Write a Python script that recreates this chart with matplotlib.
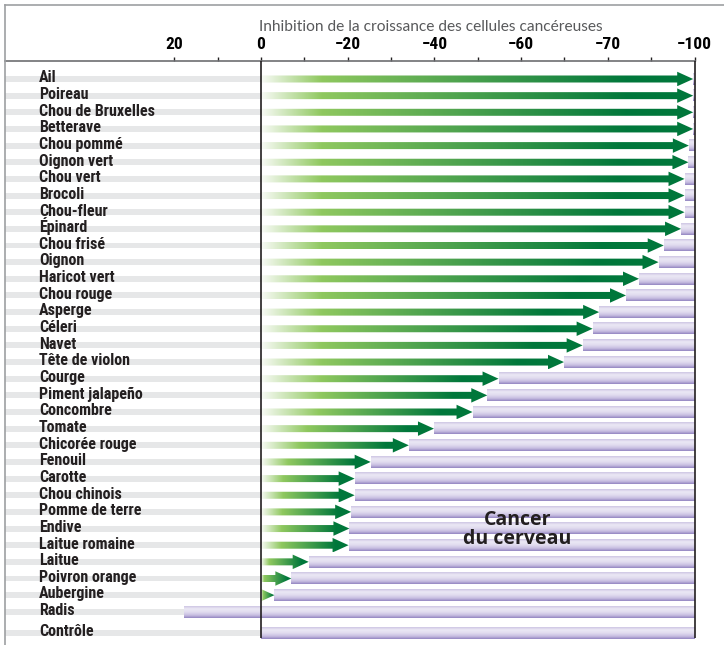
import numpy as np
import matplotlib
matplotlib.use("Agg")
import matplotlib.pyplot as plt
from matplotlib.patches import Polygon
from matplotlib.lines import Line2D
from matplotlib.colors import to_rgb
import matplotlib.font_manager as fm

# ---------------- data ----------------
foods = ['Ail', 'Poireau', 'Chou de Bruxelles', 'Betterave', 'Chou pommé',
         'Oignon vert', 'Chou vert', 'Brocoli', 'Chou-fleur', 'Épinard',
         'Chou frisé', 'Oignon', 'Haricot vert', 'Chou rouge', 'Asperge',
         'Céleri', 'Navet', 'Tête de violon', 'Courge', 'Piment jalapeño',
         'Concombre', 'Tomate', 'Chicorée rouge', 'Fenouil', 'Carotte',
         'Chou chinois', 'Pomme de terre', 'Endive', 'Laitue romaine',
         'Laitue', 'Poivron orange', 'Aubergine', 'Radis', 'Contrôle']
inhibition = [-99.7, -99.7, -99.7, -99.7, -98.7, -98.6, -97.7, -97.7, -97.7,
              -96.9, -92.9, -91.7, -87.2, -84.2, -78.0, -76.5, -74.2, -69.9,
              -54.8, -52.2, -48.8, -39.9, -34.1, -25.3, -21.6, -21.6, -20.8,
              -20.4, -20.2, -11.0, -7.0, -3.1, 17.8, 0.0]
tick_values = [20, 0, -20, -40, -60, -80, -100]
tick_labels = ['20', '0', '\u221220', '\u221240', '\u221260', '\u221270', '\u2212100']
minor_ticks = [10, -10, -30, -50, -70, -90]
axis_title = 'Inhibition de la croissance des cellules cancéreuses'
panel_label = 'Cancer\ndu cerveau'

# ---------------- fonts ----------------
avail = {f.name for f in fm.fontManager.ttflist}
cond_font = None
for cand in ['Roboto Condensed', 'Liberation Sans Narrow', 'Open Sans Condensed',
             'DejaVu Sans Condensed']:
    if cand in avail:
        cond_font = cand
        break
if cond_font is None:
    cond_font = 'DejaVu Sans'
    cond_kw = dict(family=cond_font, stretch='condensed')
else:
    cond_kw = dict(family=cond_font)
light_font = 'Lato' if 'Lato' in avail else 'DejaVu Sans'
bold_font = 'Open Sans' if 'Open Sans' in avail else 'DejaVu Sans'

# ---------------- figure ----------------
W, H = 724, 645
fig = plt.figure(figsize=(W / 100, H / 100), dpi=100)
ax = fig.add_axes([5 / W, 0, (W - 5) / W, (H - 61) / H])

ppu = 4.335          # pixels per unit on x
x0px = 261           # pixel of value 0
ax.set_xlim((x0px - 5) / ppu, (x0px - W) / ppu)
row_px = 16.65
ax.set_ylim((H - 79) / row_px, -(79 - 61) / row_px)

n = len(foods)
rows = np.arange(n, dtype=float)
rows[-1] = rows[-2] + 1.26   # extra gap before the control row

xleft = ax.get_xlim()[0]

# grey stripes in the label area
ax.barh(rows, width=xleft, left=0, height=0.36, color='#e6e7e8', zorder=1)

# purple bars (vertical gradient)
pstops = [0.0, 0.22, 0.5, 0.78, 1.0]
pcols = [to_rgb('#cec6e4'), to_rgb('#ebe8f5'), to_rgb('#e1dcef'),
         to_rgb('#c6bce0'), to_rgb('#9486c2')]
tt = np.linspace(0, 1, 40)
pgrad = np.stack([np.interp(tt, pstops, [c[k] for c in pcols]) for k in range(3)], axis=-1)
pgrad = pgrad[:, None, :]
bar_h = 0.69
for y, v in zip(rows, inhibition):
    if v > -100:
        ax.imshow(pgrad, extent=(v, -100, y + bar_h / 2, y - bar_h / 2),
                  origin='upper', aspect='auto', interpolation='bilinear', zorder=2)

# green gradient arrows
light_g = np.array(to_rgb('#8fc85f'))
dark_g = np.array(to_rgb('#00773b'))
white = np.array([0.97, 0.98, 0.96])
head_len = 16 / ppu
head_w = 14.5 / row_px
shaft_w = 7 / row_px
for y, v in zip(rows, inhibition):
    if v >= 0:
        continue
    L = -v
    Lpx = L * ppu
    fade_px = float(np.clip(0.3 * Lpx - 6, 2, 60))
    fade = fade_px / Lpx
    xs = np.linspace(0, 1, 200)
    stops = [0, fade, max(0.85, fade + 0.05), 1.0]
    cols = [white, light_g, dark_g, dark_g]
    g = np.stack([np.interp(xs, stops, [c[k] for c in cols]) for k in range(3)], axis=-1)
    g = g[None, :, :]
    if L > head_len:
        hb = v + head_len
        hw = head_w
        pts = [(0, y - shaft_w / 2), (hb, y - shaft_w / 2), (hb, y - hw / 2), (v, y),
               (hb, y + hw / 2), (hb, y + shaft_w / 2), (0, y + shaft_w / 2)]
    else:
        hw = head_w * L / head_len
        pts = [(0, y - hw / 2), (v, y), (0, y + hw / 2)]
    poly = Polygon(pts, closed=True, facecolor='none', edgecolor='none',
                   transform=ax.transData)
    ax.add_patch(poly)
    im = ax.imshow(g, extent=(0, v, y + head_w / 2, y - head_w / 2), origin='upper',
                   aspect='auto', interpolation='bilinear', zorder=3)
    im.set_clip_path(poly)

# vertical reference lines at 0 and -100
ybot = (638 - 79) / row_px
ax.vlines([0, -100], ymin=ax.get_ylim()[1], ymax=ybot, color='#231f20', lw=1.2, zorder=5)

# labels
for y, name in zip(rows, foods):
    ax.text((x0px - 39) / ppu, y + 0.2, name, ha='left', va='baseline',
            fontsize=11.5, fontweight='bold', color='#231f20', zorder=6, **cond_kw)

ax.text(-59.1, (529.5 - 79) / row_px, panel_label, ha='center', va='center',
        fontsize=14, fontweight='bold', family=bold_font, color='#231f20',
        linespacing=0.92, zorder=6)

# axis styling
for s in ['left', 'right', 'bottom']:
    ax.spines[s].set_visible(False)
ax.spines['top'].set_bounds(xleft, -100)
ax.spines['top'].set_color('#6d6e71')
ax.spines['top'].set_linewidth(1.2)
ax.xaxis.tick_top()
ax.set_xticks(tick_values)
ax.set_xticklabels(tick_labels)
ax.set_xticks(minor_ticks, minor=True)
ax.tick_params(axis='x', which='both', direction='out', length=3.2, width=1,
               color='#231f20', pad=3)
for lab in ax.get_xticklabels():
    lab.set_fontweight('bold')
    lab.set_fontsize(12.5)
    for k, val in cond_kw.items():
        if k == 'family':
            lab.set_family(val)
        else:
            lab.set_stretch(val)
ax.set_yticks([])
ax.set_facecolor('none')

# title
fig.text(259 / W, 1 - 27 / H, axis_title, ha='left', va='center', fontsize=11.2,
         family=light_font, fontweight='normal', color='#58595b')

# frame
fig.add_artist(Line2D([5 / W, 5 / W], [0, 1 - 5 / H], transform=fig.transFigure,
                      color='#9d9fa2', lw=1.2))
fig.add_artist(Line2D([5 / W, 1], [1 - 5 / H, 1 - 5 / H], transform=fig.transFigure,
                      color='#9d9fa2', lw=1.2))

fig.savefig('out.png', dpi=100)
